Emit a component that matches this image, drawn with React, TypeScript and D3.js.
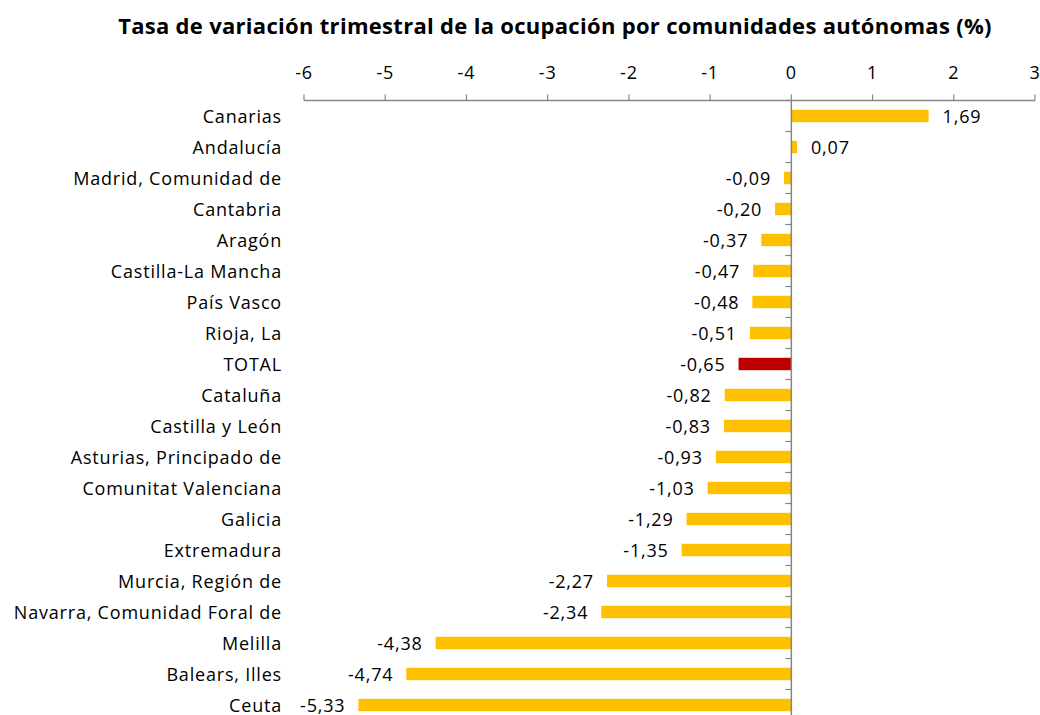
import * as d3 from 'd3'

const categories = [
  'Canarias',
  'Andalucía',
  'Madrid, Comunidad de',
  'Cantabria',
  'Aragón',
  'Castilla-La Mancha',
  'País Vasco',
  'Rioja, La',
  'TOTAL',
  'Cataluña',
  'Castilla y León',
  'Asturias, Principado de',
  'Comunitat Valenciana',
  'Galicia',
  'Extremadura',
  'Murcia, Región de',
  'Navarra, Comunidad Foral de',
  'Melilla',
  'Balears, Illes',
  'Ceuta',
]

const values = [
  1.69, 0.07, -0.09, -0.2, -0.37, -0.47, -0.48, -0.51, -0.65, -0.82, -0.83, -0.93, -1.03, -1.29, -1.35,
  -2.27, -2.34, -4.38, -4.74, -5.33,
]

const xTickValues = [-6, -5, -4, -3, -2, -1, 0, 1, 2, 3]

const title = 'Tasa de variación trimestral de la ocupación por comunidades autónomas (%)'

const FONT = '"Open Sans", Lato, sans-serif'

export default function App() {
  const width = 1040
  const height = 715
  const margin = { top: 100.5, left: 304, right: 5 }
  const plotBottom = 720.5

  const x = d3.scaleLinear().domain([-6, 3]).range([margin.left, width - margin.right])
  const y = d3.scaleBand<string>().domain(categories).range([margin.top, plotBottom]).paddingInner(0.6).paddingOuter(0.3)
  const boundaries = d3.range(categories.length + 1).map((i) => margin.top + i * (plotBottom - margin.top) / categories.length)
  const axisColor = '#868686'
  const fmt = (v: number) => v.toFixed(2).replace('.', ',')
  const textProps = { fontFamily: FONT, fontSize: 18, letterSpacing: 0.8, fill: '#000' }

  return (
    <svg
      width={width}
      height={height}
      style={{ position: 'absolute', left: 0, top: 0, display: 'block', background: '#fff' }}
    >
      <text x={555} y={34} textAnchor="middle" fontFamily={FONT} fontWeight="bold" fontSize="22" letterSpacing="0.3" fill="#000">
        {title}
      </text>

      {/* top value axis */}
      <line x1={x(-6)} x2={x(3)} y1={margin.top} y2={margin.top} stroke={axisColor} strokeWidth="1.5" />
      {xTickValues.map((tick) => (
        <g key={tick} transform={`translate(${x(tick)},0)`}>
          <line y1={margin.top} y2={margin.top - 6} stroke={axisColor} strokeWidth="1.2" />
          <text y={79} textAnchor="middle" {...textProps}>
            {tick}
          </text>
        </g>
      ))}

      {/* bars */}
      {categories.map((cat, i) => {
        const v = values[i]
        const by = y(cat) ?? 0
        const bh = y.bandwidth()
        const cy = by + bh / 2
        const x0 = x(Math.min(0, v))
        const x1 = x(Math.max(0, v))
        return (
          <g key={cat}>
            <rect x={x0} y={by} width={x1 - x0} height={bh} fill={cat === 'TOTAL' ? '#C00000' : '#FFC000'} />
            <text x={282} y={cy + 6.5} textAnchor="end" {...textProps}>
              {cat}
            </text>
            <text
              x={v < 0 ? x(v) - 13 : x(v) + 14}
              y={cy + 6.5}
              textAnchor={v < 0 ? 'end' : 'start'}
              {...textProps}
            >
              {fmt(v)}
            </text>
          </g>
        )
      })}

      {/* category axis */}
      <line x1={x(0)} x2={x(0)} y1={margin.top} y2={plotBottom} stroke={axisColor} strokeWidth="1.5" />
      {boundaries.map((b) => (
        <line key={b} x1={x(0) - 6} x2={x(0)} y1={b} y2={b} stroke={axisColor} strokeWidth="1.2" />
      ))}
    </svg>
  )
}
